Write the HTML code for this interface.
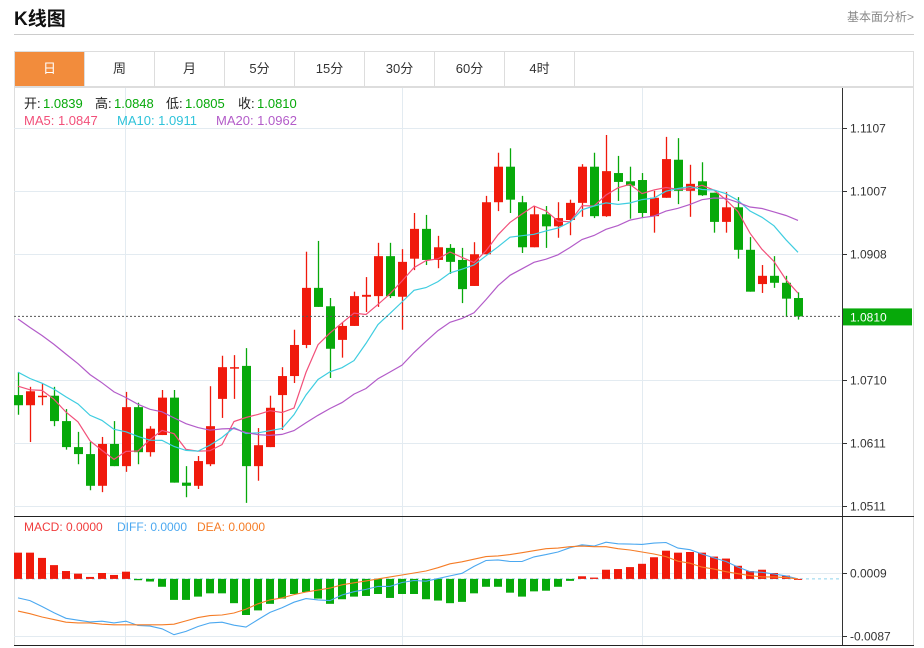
<!DOCTYPE html>
<html><head><meta charset="utf-8">
<style>
body{margin:0;background:#fff;font-family:"Liberation Sans","Noto Sans CJK SC",sans-serif;}
#wrap{position:relative;width:924px;height:648px;overflow:hidden;}
.title{position:absolute;left:14px;top:4px;font-size:19px;font-weight:bold;color:#111;}
.more{position:absolute;right:10px;top:8px;font-size:12px;color:#888;}
.hr{position:absolute;left:14px;top:34px;width:900px;height:1px;background:#ccc;}
.tabs{position:absolute;left:14px;top:51px;height:36px;width:900px;border:1px solid #ddd;box-sizing:border-box;}
.tab{position:absolute;top:0;height:34px;width:70px;border-right:1px solid #ddd;text-align:center;line-height:34px;font-size:13px;color:#333;box-sizing:border-box;}
.tab.on{background:#f28c3c;color:#fff;}
svg{position:absolute;left:0;top:0;}
</style></head><body>
<div id="wrap">
<div class="title">K线图</div>
<div class="more">基本面分析&gt;</div>
<div class="hr"></div>
<div class="tabs">
<div class="tab on" style="left:0">日</div>
<div class="tab" style="left:70px">周</div>
<div class="tab" style="left:140px">月</div>
<div class="tab" style="left:210px">5分</div>
<div class="tab" style="left:280px">15分</div>
<div class="tab" style="left:350px">30分</div>
<div class="tab" style="left:420px">60分</div>
<div class="tab" style="left:490px">4时</div>
</div>
<svg id="chart" width="924" height="648"></svg>
</div>
<script>
const priorCloses=[1.0960,1.0940,1.0925,1.0910,1.0895,1.0885,1.0870,1.0860,1.0845,1.0810,1.0790,1.0760,1.0740,1.0725,1.0705,1.0720,1.0690,1.0715,1.0705];
const opens=[1.0686,1.0670,1.0683,1.0685,1.0645,1.0604,1.0593,1.0543,1.0609,1.0574,1.0667,1.0596,1.0623,1.0682,1.0548,1.0543,1.0577,1.0680,1.0729,1.0732,1.0574,1.0604,1.0686,1.0716,1.0765,1.0855,1.0826,1.0773,1.0795,1.0841,1.0842,1.0905,1.0841,1.0901,1.0948,1.0899,1.0918,1.0899,1.0858,1.0908,1.0990,1.1046,1.0990,1.0919,1.0971,1.0952,1.0962,1.0989,1.1046,1.0968,1.1036,1.1023,1.1025,1.0968,1.0997,1.1057,1.1008,1.1023,1.1005,1.0959,1.0982,1.0915,1.0861,1.0874,1.0863,1.0839];
const highs=[1.0722,1.0699,1.0704,1.0699,1.0664,1.0628,1.0612,1.0620,1.0645,1.0691,1.0674,1.0637,1.0694,1.0694,1.0574,1.0590,1.0700,1.0748,1.0749,1.0760,1.0634,1.0685,1.0730,1.0789,1.0912,1.0929,1.0839,1.0801,1.0849,1.0872,1.0926,1.0926,1.0916,1.0973,1.0970,1.0937,1.0924,1.0918,1.0927,1.1000,1.1068,1.1075,1.1000,1.0984,1.0984,1.0990,1.0994,1.1050,1.1068,1.1096,1.1063,1.1046,1.1036,1.1008,1.1093,1.1091,1.1049,1.1053,1.1005,1.1006,1.0998,1.0935,1.0891,1.0905,1.0874,1.0848];
const lows=[1.0655,1.0612,1.0670,1.0637,1.0600,1.0577,1.0536,1.0533,1.0574,1.0565,1.0577,1.0589,1.0623,1.0548,1.0525,1.0538,1.0574,1.0650,1.0680,1.0516,1.0551,1.0604,1.0631,1.0705,1.0760,1.0825,1.0713,1.0745,1.0795,1.0817,1.0825,1.0839,1.0789,1.0883,1.0891,1.0886,1.0877,1.0831,1.0858,1.0908,1.0976,1.0973,1.0910,1.0919,1.0918,1.0934,1.0938,1.0967,1.0965,1.0967,1.0992,1.0964,1.0965,1.0942,1.0997,1.0987,1.0967,1.1000,1.0942,1.0942,1.0901,1.0849,1.0847,1.0855,1.0809,1.0805];
const closes=[1.0670,1.0692,1.0685,1.0645,1.0604,1.0593,1.0543,1.0609,1.0574,1.0667,1.0596,1.0633,1.0682,1.0548,1.0543,1.0582,1.0637,1.0730,1.0730,1.0574,1.0607,1.0666,1.0716,1.0765,1.0855,1.0825,1.0759,1.0795,1.0842,1.0844,1.0905,1.0842,1.0896,1.0948,1.0899,1.0919,1.0896,1.0853,1.0908,1.0990,1.1046,1.0994,1.0919,1.0971,1.0952,1.0965,1.0989,1.1046,1.0968,1.1039,1.1022,1.1016,1.0973,1.0997,1.1058,1.1008,1.1019,1.1001,1.0959,1.0982,1.0915,1.0849,1.0874,1.0863,1.0838,1.0810];
const macdHist=[0.0040,0.0040,0.0032,0.0021,0.0012,0.0008,0.0003,0.0009,0.0006,0.0011,-0.0002,-0.0004,-0.0012,-0.0032,-0.0032,-0.0027,-0.0022,-0.0022,-0.0037,-0.0055,-0.0048,-0.0038,-0.0030,-0.0023,-0.0020,-0.0030,-0.0038,-0.0031,-0.0027,-0.0026,-0.0023,-0.0029,-0.0023,-0.0023,-0.0031,-0.0033,-0.0037,-0.0035,-0.0022,-0.0012,-0.0012,-0.0021,-0.0027,-0.0019,-0.0018,-0.0012,-0.0003,0.0004,0.0002,0.0014,0.0015,0.0018,0.0023,0.0033,0.0043,0.0040,0.0041,0.0040,0.0034,0.0031,0.0020,0.0012,0.0014,0.0009,0.0005,0.0000];
const deaVals=[-0.0049,-0.0053,-0.0058,-0.0062,-0.0066,-0.0067,-0.0067,-0.0069,-0.0070,-0.0070,-0.0070,-0.0070,-0.0070,-0.0069,-0.0064,-0.0059,-0.0056,-0.0055,-0.0052,-0.0046,-0.0038,-0.0032,-0.0029,-0.0024,-0.0020,-0.0017,-0.0014,-0.0009,-0.0006,-0.0003,0.0000,0.0003,0.0006,0.0009,0.0012,0.0017,0.0023,0.0026,0.0030,0.0034,0.0035,0.0037,0.0040,0.0043,0.0046,0.0047,0.0049,0.0050,0.0049,0.0049,0.0046,0.0044,0.0041,0.0038,0.0034,0.0027,0.0024,0.0018,0.0015,0.0011,0.0008,0.0005,0.0003,0.0003,0.0002,0.0000];
const priceTicks=[1.1107,1.1007,1.0908,1.0710,1.0611,1.0511];
const macdTicks=[0.0009,-0.0087];

const NS='http://www.w3.org/2000/svg';
const svg=document.getElementById('chart');
function mk(tag,attrs,name,parent){const e=document.createElementNS(NS,tag);for(const k in attrs)e.setAttribute(k,attrs[k]);


(parent||svg).appendChild(e);return e;}
const x0=18,step=12;
function xs(i){return x0+i*step;}
function yp(p){return 128+(1.1107-p)*6344;}
function ym(v){return 578.9-v*6562;}
const RED='#f01a0c',GRN='#07a90a';
mk('rect',{x:14.5,y:87.5,width:899,height:558,fill:'none',stroke:'#ddd'},'chart-frame');
priceTicks.forEach(t=>{const y=Math.round(yp(t))+0.5;mk('line',{x1:14,x2:842,y1:y,y2:y,stroke:'#e3ebf1'},'price-gridline');
mk('line',{x1:842,x2:847,y1:y,y2:y,stroke:'#333'},'price-tick');
const tx=mk('text',{x:850,y:y+4,'font-size':12,fill:'#333'},'price-tick-label');tx.textContent=t.toFixed(4);});
[125,402,642].forEach(x=>{mk('line',{x1:x+0.5,x2:x+0.5,y1:88,y2:645,stroke:'#e3ebf1'},'time-gridline');});
macdTicks.forEach(t=>{const y=Math.round(ym(t))+0.5;mk('line',{x1:14,x2:842,y1:y,y2:y,stroke:'#e3ebf1'},'macd-gridline');
mk('line',{x1:842,x2:847,y1:y,y2:y,stroke:'#333'},'macd-tick');
const tx=mk('text',{x:850,y:y+4,'font-size':12,fill:'#333'},'macd-tick-label');tx.textContent=t.toFixed(4);});
mk('line',{x1:842.5,x2:842.5,y1:88,y2:646,stroke:'#333'},'y-axis-line');
mk('line',{x1:14,x2:914,y1:516.5,y2:516.5,stroke:'#222'},'panel-divider');
mk('line',{x1:14,x2:914,y1:645.5,y2:645.5,stroke:'#222'},'bottom-axis-line');
for(let i=0;i<closes.length;i++){const up=closes[i]>=opens[i];const c=up?RED:GRN;const x=xs(i);
mk('line',{x1:x+0.5,x2:x+0.5,y1:yp(highs[i]),y2:yp(lows[i]),stroke:c,'stroke-width':1.3},'candle-wick');
const t=yp(Math.max(opens[i],closes[i])),b=yp(Math.min(opens[i],closes[i]));
mk('rect',{x:x-4,y:t,width:9,height:Math.max(1.5,b-t),fill:c},'candle-body');}
const all=priorCloses.concat(closes);
function ma(n){return closes.map((c,i)=>{let s=0;for(let k=0;k<n;k++)s+=all[priorCloses.length+i-k];return s/n;});}
[[5,'#f2507a','ma5-line'],[10,'#3fcde0','ma10-line'],[20,'#b35cc9','ma20-line']].forEach(([n,col,nm])=>{
const v=ma(n);mk('polyline',{points:v.map((p,i)=>xs(i)+','+yp(p).toFixed(1)).join(' '),fill:'none',stroke:col,'stroke-width':1.2},nm);});
const lc=closes[closes.length-1],ly=yp(lc);
mk('line',{x1:14,x2:842,y1:ly,y2:ly,stroke:'#555','stroke-dasharray':'2,2'},'last-price-line');
mk('rect',{x:843,y:ly-8,width:69,height:17,fill:GRN},'last-price-badge');
const lt=mk('text',{x:850,y:ly+5,'font-size':12,fill:'#fff'},'last-price-label');lt.textContent=lc.toFixed(4);
const z=ym(0);
mk('line',{x1:14,x2:842,y1:z,y2:z,stroke:'#8fd3ec','stroke-dasharray':'3,3'},'macd-zero-line');
macdHist.forEach((v,i)=>{const y=ym(v);mk('rect',{x:xs(i)-4,y:Math.min(y,z),width:8,height:Math.max(1,Math.abs(y-z)),fill:v>=0?RED:GRN},'macd-bar');});
const diffVals=deaVals.map((d,i)=>d+macdHist[i]/2);
mk('polyline',{points:diffVals.map((v,i)=>xs(i)+','+ym(v).toFixed(1)).join(' '),fill:'none',stroke:'#4ba8f0','stroke-width':1.1},'diff-line');
mk('polyline',{points:deaVals.map((v,i)=>xs(i)+','+ym(v).toFixed(1)).join(' '),fill:'none',stroke:'#f57c26','stroke-width':1.1},'dea-line');
function txt(x,y,s,col,nm,fs){const t=mk('text',{x:x,y:y,'font-size':fs||13,fill:col},nm);t.textContent=s;}
txt(24,108,'开:','#222','open-label');txt(43,108,'1.0839',GRN,'open-value');
txt(95,108,'高:','#222','high-label');txt(114,108,'1.0848',GRN,'high-value');
txt(166,108,'低:','#222','low-label');txt(185,108,'1.0805',GRN,'low-value');
txt(238,108,'收:','#222','close-label');txt(257,108,'1.0810',GRN,'close-value');
txt(24,125,'MA5: 1.0847','#f2507a','ma5-legend');
txt(117,125,'MA10: 1.0911','#2fc3da','ma10-legend');
txt(216,125,'MA20: 1.0962','#b35cc9','ma20-legend');
txt(24,531,'MACD: 0.0000','#f03c3c','macd-legend',12);
txt(117,531,'DIFF: 0.0000','#4ba8f0','diff-legend',12);
txt(197,531,'DEA: 0.0000','#f57c26','dea-legend',12);
</script>
</body></html>
